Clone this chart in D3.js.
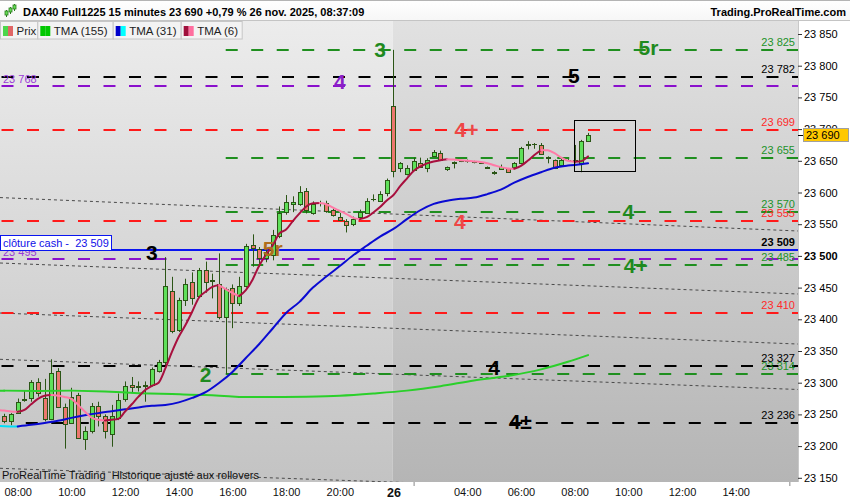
<!DOCTYPE html>
<html><head><meta charset="utf-8">
<script src="https://cdn.jsdelivr.net/npm/d3@7"></script>
<style>
body{margin:0;background:#fff;}
svg{display:block;font-family:"Liberation Sans",Arial,sans-serif;}
text{white-space:pre;}
</style>
</head><body>
<svg id="c" width="850" height="500"></svg>
<script>
// ---------------- DATA ----------------
const yTicks = [23150,23200,23250,23300,23350,23400,23450,23500,23550,23600,23650,23700,23750,23800,23850];
const xTickBars = [2,10,18,26,34,42,50,58,69,77,85,93,101,109];
const xTickLabels = ["08:00","10:00","12:00","14:00","16:00","18:00","20:00","26","04:00","06:00","08:00","10:00","12:00","14:00"];
const xMinorBars = [61,117];

// 15-minute bars from 25 nov 07:30 to 26 nov 08:30
const open  = [23248,23240,23252,23273,23276,23301,23276,23243,23318,23262,23236,23281,23211,23224,23263,23247,23219,23244,23274,23296,23293,23295,23296,23318,23332,23444,23383,23431,23459,23437,23477,23462,23455,23403,23449,23425,23452,23517,23511,23497,23501,23531,23569,23582,23582,23603,23568,23583,23583,23572,23562,23555,23550,23561,23568,23589,23587,23599,23737,23639,23629,23636,23647,23638,23658,23662,23637,23647,23649,23650,23648,23646,23639,23633,23637,23638,23640,23647,23675,23676,23675,23656,23651,23644,23652,23651,23647,23681];
const high  = [23251,23252,23275,23288,23304,23307,23306,23337,23323,23267,23292,23284,23231,23268,23270,23250,23265,23283,23302,23309,23302,23302,23324,23336,23498,23467,23434,23464,23474,23481,23491,23472,23504,23450,23455,23467,23519,23534,23514,23512,23541,23578,23596,23594,23610,23607,23586,23587,23587,23575,23568,23558,23562,23573,23591,23597,23602,23622,23825,23648,23643,23655,23655,23654,23667,23666,23641,23649,23651,23652,23650,23647,23641,23634,23644,23638,23648,23672,23681,23678,23678,23657,23652,23656,23653,23675,23683,23694];
const low   = [23236,23233,23251,23270,23270,23278,23239,23241,23260,23196,23235,23212,23194,23220,23231,23212,23199,23241,23270,23284,23286,23270,23294,23316,23328,23378,23380,23421,23423,23434,23442,23433,23400,23314,23386,23421,23450,23483,23483,23490,23493,23528,23565,23569,23579,23567,23565,23578,23568,23562,23555,23537,23547,23558,23567,23586,23585,23594,23624,23632,23627,23635,23639,23632,23656,23651,23634,23638,23648,23647,23646,23645,23638,23628,23637,23632,23639,23646,23668,23669,23660,23646,23637,23643,23650,23646,23632,23681];
const close = [23240,23250,23270,23275,23301,23284,23243,23316,23262,23235,23278,23213,23224,23264,23247,23224,23247,23272,23295,23293,23295,23296,23321,23332,23453,23382,23431,23456,23433,23478,23459,23460,23404,23448,23425,23453,23516,23512,23496,23506,23533,23568,23585,23585,23601,23572,23582,23584,23571,23565,23557,23549,23558,23569,23587,23590,23598,23620,23634,23646,23639,23649,23640,23651,23664,23652,23640,23648,23650,23649,23648,23646,23640,23631,23641,23633,23647,23670,23676,23676,23661,23654,23638,23652,23652,23652,23682,23690];

// TMA (6), one value per bar from bar -1
const tma6 = [23257,23256,23254.5,23254,23257,23266,23274.5,23279.5,23280.5,23279.5,23277.5,23274.5,23265,23254.5,23245,23241.5,23240.5,23241.5,23243,23254.5,23266,23278,23288.5,23295,23300,23322.5,23349,23372.5,23391,23412,23434,23443.5,23451,23454,23447.5,23441.5,23436.5,23446,23462.5,23485,23502,23516.5,23535.5,23541.5,23555,23567,23578,23583,23583.5,23581.5,23576,23571,23566,23560,23558,23561,23568.5,23577,23587.5,23596,23610,23622,23634,23641,23646,23649,23651,23652.5,23652,23651,23650,23649,23648,23646,23643,23640,23638,23637.5,23642,23650,23659,23667,23666.5,23662,23655,23650,23648.5,23649.5,23657];
// TMA (31)
const tma31Bars = [-1,0,2,4,6,8,10,12,14,16,18,20,22,24,26,28,30,32,34,36,38,40,42,44,46,48,50,52,54,56,58,60,62,64,66,68,70,72,74,76,78,80,82,84,86,87];
const tma31 = [23232,23231.5,23231,23233.5,23236.5,23240,23244.5,23248.5,23252,23255,23258,23261,23263.5,23265,23269,23276,23285,23299.5,23317,23339,23361,23385.5,23410,23427.5,23450,23467.5,23484,23501,23516,23530.5,23542.5,23558,23572,23582,23587,23590,23592,23597.5,23604.5,23615.5,23624.5,23632,23639,23642.5,23644.5,23646];
// TMA (155)
const tma155Bars = [-1,0,5,10,15,20,25,30,35,40,45,50,55,60,65,70,75,80,84,87];
const tma155 = [23287.5,23287.5,23287,23287.5,23286,23283.5,23282,23280.5,23277.5,23277.5,23278,23279.5,23283,23287.5,23294.5,23303.5,23310.5,23321,23333,23343.5];

// Horizontal levels
const levelValues = [23825,23782,23768,23699,23655,23570,23555,23495,23485,23410,23327,23314,23236];
const levelKinds  = ["green","black","purple","red","green","green","red","purple","green","red","black","green","black"];
const levelStartBar = [33,-1,-1,-1,33,33,-1,-1,33,-1,-1,33,3.2];
const cashClose = 23509;
const lastPrice = 23690;

// Dotted trend lines (value at left edge, value at right edge)
const trendBars  = [-0.64,118.29];
const trendLeft  = [23592,23488.8,23409.9,23336.9,23165];
const trendRight = [23539.3,23439.9,23361,23289.3,23120.7];

// Annotations
const annText  = ["3","5r","5","4","4+","4","4","4+","3","5r","2","4","4±"];
const annBar   = [56,96,84.9,50,68.9,67.9,93,94.1,22,40,30,73,76.9];
const annValue = [23825.6,23829.5,23784.5,23775.9,23700.2,23554.3,23570.8,23484.9,23505.4,23512.5,23313,23324.8,23239.6];
const annKind  = ["green","green","black","purple","red","red","green","green","black","brown","green","black","black"];

// Zoom box (bars, values)
const boxBars = [84.9,94];
const boxValues = [23714.4,23633.4];

// ---------------- DRAW ----------------
const W=850,H=500,PR=798,PT=21,PB=482;
const X = d3.scaleLinear().domain([-0.64,118.29]).range([0,PR]);
const Y = d3.scaleLinear().domain([23150,23850]).range([477.8,34]);
const fmt = d3.formatLocale({decimal:",",thousands:" ",grouping:[3],currency:["",""]}).format(",d");

const lineCol = {green:"#1f8f1f",black:"#000000",purple:"#8a10cc",red:"#ff1a1a"};
const txtCol  = {green:"#22922a",black:"#000000",purple:"#9a3ad8",red:"#ff2a2a"};
const annCol  = {green:"#1f8a1f",black:"#000000",purple:"#8a1fc8",red:"#ee4646",brown:"#b06e1c"};

const svg = d3.select("#c");
const defs = svg.append("defs");
function grad(id,c0,c1){
  const gr=defs.append("linearGradient").attr("id",id).attr("x1",0).attr("y1",0).attr("x2",0).attr("y2",1);
  gr.append("stop").attr("offset","0%").attr("stop-color",c0);
  gr.append("stop").attr("offset","100%").attr("stop-color",c1);
}
grad("bgL","#ececec","#c3c3c3");
grad("bgR","#e1e1e1","#b5b5b5");
grad("hdr","#ffffff","#f6f6f6");
defs.append("clipPath").attr("id","plot").append("rect").attr("x",0).attr("y",PT).attr("width",PR).attr("height",PB-PT);

svg.append("rect").attr("width",W).attr("height",H).attr("fill","#fff");
const dayX = X(57.9);
svg.append("rect").attr("x",0).attr("y",PT).attr("width",dayX).attr("height",PB-PT).attr("fill","url(#bgL)");
svg.append("rect").attr("x",dayX).attr("y",PT).attr("width",PR-dayX).attr("height",PB-PT).attr("fill","url(#bgR)");

const g = svg.append("g").attr("clip-path","url(#plot)");

// trend lines
trendLeft.forEach((v,k)=>{
  g.append("line").attr("x1",X(trendBars[0])).attr("x2",X(trendBars[1]))
   .attr("y1",Y(v)).attr("y2",Y(trendRight[k]))
   .attr("stroke","#4a4a4a").attr("stroke-width",1).attr("stroke-dasharray","3,3");
});

// levels
levelValues.forEach((v,k)=>{
  const y=Math.round(Y(v));
  g.append("line").attr("x1",Math.max(0,X(levelStartBar[k]))+(levelStartBar[k]<0?1.5:0)).attr("x2",PR)
   .attr("y1",y).attr("y2",y).attr("stroke",lineCol[levelKinds[k]]).attr("stroke-width",2)
   .attr("stroke-dasharray","12,13.5");
});
// cash close line
g.append("line").attr("x1",0).attr("x2",PR).attr("y1",Math.round(Y(cashClose))).attr("y2",Math.round(Y(cashClose)))
 .attr("stroke","#0a14f0").attr("stroke-width",2);

// candles
const cg=g.append("g");
open.forEach((o,i)=>{
  const c=close[i], cx=Math.round(X(i));
  const up=c>=o;
  cg.append("line").attr("x1",cx+0.5).attr("x2",cx+0.5).attr("y1",Y(high[i])).attr("y2",Y(low[i]))
    .attr("stroke","#2b5516").attr("stroke-width",1);
  const yt=Math.round(Y(Math.max(o,c)))+0.5, yb=Math.round(Y(Math.min(o,c)))+0.5;
  cg.append("rect").attr("x",cx-1.5).attr("y",yt).attr("width",4).attr("height",Math.max(0.01,yb-yt))
    .attr("fill",up?"#5fe05a":"#ec776e").attr("stroke","#2b5516").attr("stroke-width",1);
});

// colored TMA lines
function drawColored(bars,vals,upC,dnC,w){
  const runs=[]; let cur=null;
  for(let k=1;k<bars.length;k++){
    const dir=vals[k]>=vals[k-1]?1:-1;
    if(!cur||cur.dir!==dir){cur={dir,pts:[[bars[k-1],vals[k-1]]]};runs.push(cur);}
    cur.pts.push([bars[k],vals[k]]);
  }
  const ln=d3.line().x(d=>X(d[0])).y(d=>Y(d[1])).curve(d3.curveMonotoneX);
  runs.forEach(r=>g.append("path").attr("d",ln(r.pts)).attr("fill","none")
    .attr("stroke",r.dir>0?upC:dnC).attr("stroke-width",w).attr("stroke-linecap","round"));
}
const tma6Bars = d3.range(-1,tma6.length-1);
drawColored(tma155Bars,tma155,"#2ad02a","#2ad02a",2);
drawColored(tma31Bars,tma31,"#0a0ad2","#00e0f8",2);
drawColored(tma6Bars,tma6,"#a8103e","#ff7aa6",2);

// zoom box
g.append("rect").attr("x",Math.round(X(boxBars[0]))+0.5).attr("y",Math.round(Y(boxValues[0]))+0.5)
 .attr("width",Math.round(X(boxBars[1])-X(boxBars[0]))).attr("height",Math.round(Y(boxValues[1])-Y(boxValues[0])))
 .attr("fill","none").attr("stroke","#000").attr("stroke-width",1);

// right value labels
levelValues.forEach((v,k)=>{
  if(levelKinds[k]==="purple"){
    g.append("text").attr("x",3).attr("y",Y(v)-3).attr("font-size",11).attr("fill",txtCol.purple).text(fmt(v));
  } else {
    g.append("text").attr("x",795).attr("y",Y(v)-4).attr("text-anchor","end").attr("font-size",11)
     .attr("fill",txtCol[levelKinds[k]]).text(fmt(v));
  }
});
g.append("text").attr("x",795).attr("y",Y(cashClose)-4).attr("text-anchor","end").attr("font-size",11)
 .attr("font-weight","bold").attr("fill","#000").text(fmt(cashClose));

// annotations
annText.forEach((t,k)=>{
  g.append("text").attr("x",X(annBar[k])).attr("y",Y(annValue[k])).attr("dy","0.36em")
   .attr("text-anchor","middle").attr("font-size",21).attr("font-weight","bold")
   .attr("fill",annCol[annKind[k]]).text(t);
});

// cash box
g.append("rect").attr("x",0.5).attr("y",235.5).attr("width",111).attr("height",15).attr("fill","#fff").attr("stroke","#0a14f0");
g.append("text").attr("x",3).attr("y",247).attr("font-size",11).attr("fill","#1010e8").text("clôture cash -  "+fmt(cashClose));

// bottom note
g.append("text").attr("x",2).attr("y",479).attr("font-size",11).attr("fill","#111").text("ProRealTime Trading  Historique ajusté aux rollovers");

// right axis
svg.append("line").attr("x1",PR+0.5).attr("x2",PR+0.5).attr("y1",PT).attr("y2",PB).attr("stroke","#c8c8c8");
const ya = svg.append("g").attr("transform",`translate(${PR},0)`)
  .call(d3.axisRight(Y).tickValues(yTicks).tickSize(4).tickPadding(2).tickFormat(fmt));
ya.select(".domain").remove();
ya.selectAll("text").attr("font-size",11).attr("fill","#000").attr("font-family","Liberation Sans, Arial, sans-serif")
  .attr("font-weight",d=>d===23500?"bold":"normal");
ya.selectAll("line").attr("stroke","#333");

// last price tag
svg.append("line").attr("x1",PR).attr("x2",PR+5).attr("y1",Math.round(Y(lastPrice))+0.5).attr("y2",Math.round(Y(lastPrice))+0.5).attr("stroke","#000");
svg.append("rect").attr("x",803.5).attr("y",Math.round(Y(lastPrice))-6.5).attr("width",45).attr("height",13)
  .attr("fill","#ffc800").attr("stroke","#a0a0a0");
svg.append("text").attr("x",806).attr("y",Math.round(Y(lastPrice))+4).attr("font-size",11).attr("fill","#000").text(fmt(lastPrice));

// bottom axis
const xa = svg.append("g").attr("transform",`translate(0,${PB})`)
  .call(d3.axisBottom(X).tickValues(xTickBars).tickSize(0).tickPadding(6).tickFormat((d,i)=>xTickLabels[i]));
xa.select(".domain").remove();
xa.selectAll("text").attr("font-size",11).attr("fill","#111").attr("font-family","Liberation Sans, Arial, sans-serif")
  .attr("font-weight",(d,i)=>xTickLabels[i]==="26"?"bold":"normal")
  .attr("font-size",(d,i)=>xTickLabels[i]==="26"?12.5:11);
const xm = svg.append("g").attr("transform",`translate(0,${PB})`)
  .call(d3.axisBottom(X).tickValues(xMinorBars).tickSize(4).tickFormat(""));
xm.select(".domain").remove();
xm.selectAll("line").attr("stroke","#888");

// header
svg.append("rect").attr("x",0).attr("y",0).attr("width",W).attr("height",PT).attr("fill","url(#hdr)");
svg.append("line").attr("x1",0).attr("x2",W).attr("y1",0.5).attr("y2",0.5).attr("stroke","#b4b4b4");
svg.append("line").attr("x1",0).attr("x2",W).attr("y1",PT-0.5).attr("y2",PT-0.5).attr("stroke","#c4c4c4");
// header icon
[[6,10,17,11,15],[10,7,14,8,12],[14,4,11,5,9]].forEach(a=>{
  svg.append("line").attr("x1",a[0]+0.5).attr("x2",a[0]+0.5).attr("y1",a[1]).attr("y2",a[2]).attr("stroke","#2b7a1e");
  svg.append("rect").attr("x",a[0]-1).attr("y",a[3]).attr("width",3).attr("height",a[4]-a[3]).attr("fill","#66dd55").attr("stroke","#2b7a1e").attr("stroke-width",0.8);
});
svg.append("text").attr("x",23).attr("y",16).attr("font-size",11).attr("font-weight","bold").attr("fill","#000")
  .text("DAX40 Full1225 15 minutes 23 690 +0,79 % 26 nov. 2025, 08:37:09");
svg.append("text").attr("x",846).attr("y",16).attr("text-anchor","end").attr("font-size",11).attr("font-weight","bold").attr("fill","#000")
  .text("Trading.ProRealTime.com");

// legend
const legNames = ["Prix","TMA (155)","TMA (31)","TMA (6)"];
const legX = [0,37.3,112.7,180.7,241.7];
const legCols = [["#4cd64c","#e06666"],["#00c800","#00c800"],["#0000cc","#00ffff"],["#a0103c","#ff6f9f"]];
legNames.forEach((n,k)=>{
  svg.append("rect").attr("x",legX[k]+0.5).attr("y",PT+0.5).attr("width",legX[k+1]-legX[k]).attr("height",17.5)
    .attr("fill","#f3f3f3").attr("stroke","#c6c6c6");
  svg.append("rect").attr("x",legX[k]+3).attr("y",26).attr("width",5).attr("height",10).attr("fill",legCols[k][0]);
  svg.append("rect").attr("x",legX[k]+8).attr("y",26).attr("width",5).attr("height",10).attr("fill",legCols[k][1]);
  svg.append("text").attr("x",legX[k]+16.5).attr("y",35).attr("font-size",11.5).attr("fill","#222").text(n);
});
</script>
</body></html>
